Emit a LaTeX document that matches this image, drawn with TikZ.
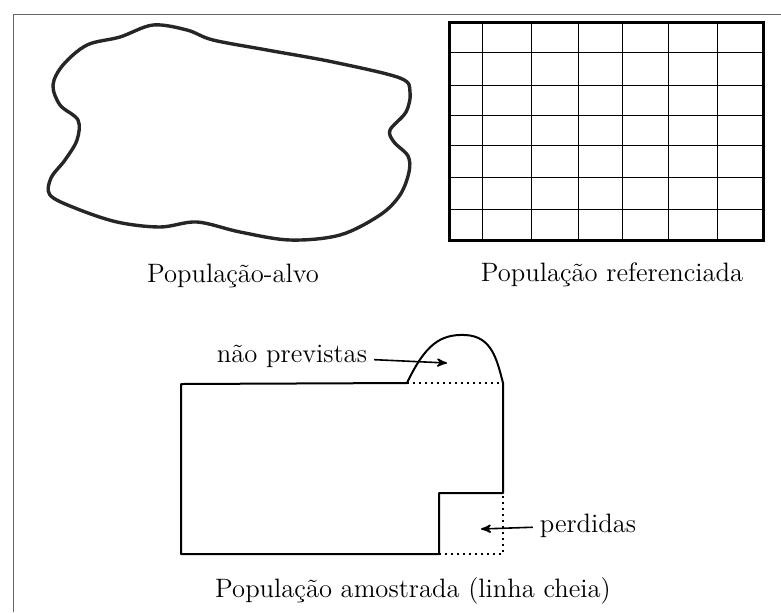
\documentclass[tikz,border=0pt]{standalone}
\usepackage{fontspec}
\usepackage{tikz}
\usetikzlibrary{arrows}

\begin{document}
\begin{tikzpicture}[x=0.5pt,y=-0.5pt,->,>=stealth',auto,
                    label node/.style={font=\fontsize{13.3}{16}\selectfont, anchor=base},
                    frame/.style={-,draw=black!60,line width=0.5pt},
                    blob/.style={-,draw=black!85,line width=1.7pt,line join=round},
                    gridline/.style={-,draw=black,line width=0.5pt},
                    border/.style={-,draw=black,line width=1.5pt},
                    full/.style={-,draw=black,line width=1pt,line join=round},
                    lost/.style={-,draw=black,line width=1pt,dotted}]

  \useasboundingbox (0,0) rectangle (781,612);
  \draw[frame] (13,612) -- (13,14) -- (781,14);

  % target population
  \draw[blob] plot[smooth cycle, tension=0.55] coordinates {
    (153,25) (187,30) (213,40) (267,50) (333,62) (400,78) (410,92) (406,112)
    (390,130) (394,142) (408,156) (409,172) (400,195) (380,215) (340,235)
    (290,240) (240,232) (197,222) (160,227) (117,222) (75,208) (50,195)
    (51,178) (65,160) (77,140) (78,120) (60,105) (53,85) (63,65) (87,45) (120,37)};

  % frame of reference
  \foreach \x in {482,531,578,622,668,717}
    \draw[gridline] (\x,22) -- (\x,240);
  \foreach \y in {52,85,115,145,177,209}
    \draw[gridline] (449,\y) -- (763,\y);
  \draw[border] (449,22) rectangle (763,240);

  \node[label node] (A) at (233,282) {População-alvo};
  \node[label node] (B) at (612,281) {População referenciada};

  % sampled population
  \draw[full] (181,384) -- (407,383) .. controls (425,345) and (440,334) .. (465,335)
    .. controls (492,336) and (497,360) .. (503,383) -- (503,493) -- (439,493)
    -- (439,554) -- (181,554) -- cycle;
  \draw[lost] (407,383) -- (503,383);
  \draw[lost] (439,554) -- (503,554) -- (503,493);

  \coordinate (np) at (447,363);
  \coordinate (pd) at (481,529);
  \node[label node] (C) at (292,362) {não previstas};
  \node[label node] (D) at (588,532) {perdidas};
  \node[label node] (E) at (413,597) {População amostrada (linha cheia)};

  \path[every edge/.style={draw,line width=0.8pt}]
    (C) edge (np)
    (D) edge (pd);
\end{tikzpicture}
\end{document}
